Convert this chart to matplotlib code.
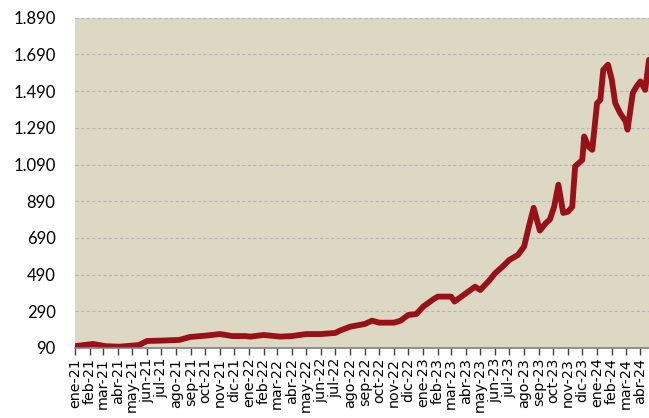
import numpy as np
import pandas as pd
import matplotlib
matplotlib.use("Agg")
import matplotlib.pyplot as plt
import matplotlib.dates as mdates
from matplotlib.ticker import FuncFormatter, FixedLocator

# Series
dates = [
    "2021-01-01", "2021-02-08", "2021-03-05", "2021-04-04", "2021-05-15", "2021-06-01",
    "2021-06-28", "2021-08-08", "2021-08-30", "2021-10-01", "2021-11-01", "2021-11-27",
    "2021-12-24", "2022-01-04", "2022-02-01", "2022-03-07", "2022-04-01", "2022-05-01",
    "2022-06-01", "2022-07-01", "2022-07-10", "2022-08-01", "2022-09-01", "2022-09-16",
    "2022-10-01", "2022-11-01", "2022-11-15", "2022-12-01", "2022-12-18", "2023-01-01",
    "2023-01-23", "2023-02-01", "2023-03-01", "2023-03-08", "2023-04-01", "2023-04-20",
    "2023-05-01", "2023-05-21", "2023-06-01", "2023-06-17", "2023-07-01", "2023-07-19",
    "2023-08-01", "2023-08-11", "2023-08-21", "2023-09-03", "2023-09-16", "2023-09-24",
    "2023-10-03", "2023-10-12", "2023-10-22", "2023-11-01", "2023-11-10", "2023-11-16",
    "2023-12-01", "2023-12-05", "2023-12-14", "2023-12-22", "2024-01-01", "2024-01-08",
    "2024-01-14", "2024-01-24", "2024-02-01", "2024-02-08", "2024-02-18", "2024-03-01",
    "2024-03-05", "2024-03-16", "2024-03-24", "2024-04-01", "2024-04-11", "2024-04-19",
]
values = [
    100, 112, 100, 97, 106, 128,
    130, 134, 150, 157, 166, 155,
    155, 152, 161, 152, 155, 166,
    166, 172, 184, 206, 221, 239,
    228, 228, 239, 270, 275, 315,
    356, 370, 370, 343, 388, 424,
    406, 461, 497, 534, 570, 597,
    643, 752, 854, 730, 772, 790,
    860, 980, 826, 833, 860, 1080,
    1115, 1243, 1188, 1170, 1424, 1443,
    1606, 1634, 1552, 1426, 1372, 1325,
    1280, 1481, 1516, 1543, 1497, 1661,
]

month_names = ["ene", "feb", "mar", "abr", "may", "jun",
               "jul", "ago", "sep", "oct", "nov", "dic"]
tick_dates = pd.date_range("2021-01-01", "2024-04-01", freq="MS")
tick_labels = [f"{month_names[d.month - 1]}-{d.strftime('%y')}" for d in tick_dates]
y_ticks = [90, 290, 490, 690, 890, 1090, 1290, 1490, 1690, 1890]

x = pd.to_datetime(dates)

fig = plt.figure(figsize=(6.49, 4.18), dpi=100)
ax = fig.add_axes([0.1156, 0.1675, 0.8844, 0.79])
ax.set_facecolor("#DDD8C3")

ax.plot(x, values, color="#981118", linewidth=4.2, solid_capstyle="round",
        solid_joinstyle="round")

ax.set_ylim(90, 1890)
ax.set_xlim(pd.Timestamp("2021-01-01"), pd.Timestamp("2024-04-19"))

ax.yaxis.set_major_locator(FixedLocator(y_ticks))
ax.yaxis.set_major_formatter(FuncFormatter(lambda v, p: f"{int(v):,}".replace(",", ".")))
ax.grid(axis="y", color="#B5B5B5", linestyle=(0, (3, 2)), linewidth=0.8)
ax.set_axisbelow(True)

ax.set_xticks(mdates.date2num(tick_dates))
ax.set_xticklabels(tick_labels, rotation=90, fontsize=10.3, family="DejaVu Sans")

for s in ["top", "right", "left"]:
    ax.spines[s].set_visible(False)
ax.spines["bottom"].set_color("#808080")
ax.spines["bottom"].set_linewidth(1.2)

ax.tick_params(axis="x", direction="out", length=5, width=1, color="#404040", pad=2)
ax.tick_params(axis="y", length=0, pad=14, labelsize=12)
for lab in ax.get_yticklabels():
    lab.set_family("Lato")

fig.savefig("out.png", dpi=100)
